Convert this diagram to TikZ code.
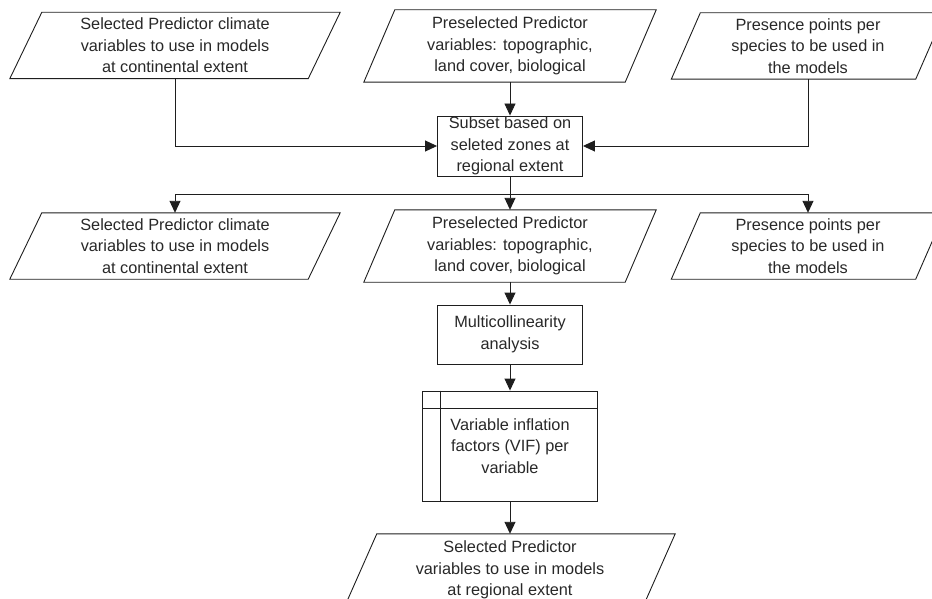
\documentclass[tikz,border=0pt]{standalone}
\usepackage{fontspec}
\setmainfont{Liberation Sans}
\usetikzlibrary{arrows.meta}

\definecolor{inkline}{RGB}{30,30,30}
\definecolor{inktext}{RGB}{40,40,40}

% outline of a slanted data box around a (borderless) node: #1 name, #2 skew
\newcommand\paraoutline[2]{%
  \draw[shapeline] ([xshift=#2/2]#1.north west) -- ([xshift=#2/2]#1.north east)
    -- ([xshift=-#2/2]#1.south east) -- ([xshift=-#2/2]#1.south west) -- cycle;}

\begin{document}
\begin{tikzpicture}[x=1pt,y=-1pt,
  every node/.style={font=\fontsize{16.3}{21.5}\selectfont, text=inktext, align=center, inner sep=0pt},
  shapeline/.style={draw=inkline, line width=0.9pt},
  databox/.style={minimum height=66pt},
  wide/.style={databox, minimum width=298pt},
  mid/.style={minimum width=261pt, minimum height=72pt},
  narrow/.style={databox, minimum width=244pt},
  procbox/.style={shapeline, minimum width=145pt, minimum height=60pt},
  link/.style={draw=inkline, line width=0.9pt},
  arr/.style={link, -{Triangle[width=11pt,length=12pt]}}]

\useasboundingbox (0,0) rectangle (932,599);

% first row of inputs
\node[wide]   (c1) at (175,45.5) {Selected Predictor climate\\variables to use in models\\at continental extent};
\node[mid]    (p1) at (510,46)   {Preselected Predictor\\variables: topographic,\\land cover, biological};
\node[narrow] (s1) at (808,46)   {Presence points per\\species to be used in\\the models};
\paraoutline{c1}{32pt}
\paraoutline{p1}{31pt}
\paraoutline{s1}{29pt}

% regional subset
\node[procbox] (sub) at (510,146) {Subset based on\\seleted zones at\\regional extent};

% second row of inputs
\node[wide]   (c2) at (175,246) {Selected Predictor climate\\variables to use in models\\at continental extent};
\node[mid]    (p2) at (510,246) {Preselected Predictor\\variables: topographic,\\land cover, biological};
\node[narrow] (s2) at (808,246) {Presence points per\\species to be used in\\the models};
\paraoutline{c2}{32pt}
\paraoutline{p2}{31pt}
\paraoutline{s2}{29pt}

% analysis
\node[procbox, minimum height=59pt] (multi) at (510,334.5) {Multicollinearity\\analysis};

\node[shapeline, minimum width=175pt, minimum height=110pt] (vif) at (510,446) {};
\draw[shapeline] ([xshift=18pt]vif.north west) -- ([xshift=18pt]vif.south west);
\draw[shapeline] ([yshift=-18pt]vif.north west) -- ([yshift=-18pt]vif.north east);
\node (viftext) at (510,446) {Variable inflation\\factors (VIF) per\\variable};

% result
\node[wide, minimum height=72pt] (final) at (510,570) {Selected Predictor\\variables to use in models\\at regional extent};
\paraoutline{final}{32pt}

% connectors
\draw[arr] (c1.south) |- (sub.west);
\draw[arr] (s1.south) |- (sub.east);
\draw[arr] (p1.south) -- (sub.north);

\coordinate (split) at (510,194);
\draw[link] (sub.south) -- (split);
\draw[arr] (split) -| (c2.north);
\draw[arr] (split) -| (s2.north);
\draw[arr] (split) -- (p2.north);

\draw[arr] (p2.south) -- (multi.north);
\draw[arr] (multi.south) -- (vif.north);
\draw[arr] (vif.south) -- (final.north);
\end{tikzpicture}
\end{document}
